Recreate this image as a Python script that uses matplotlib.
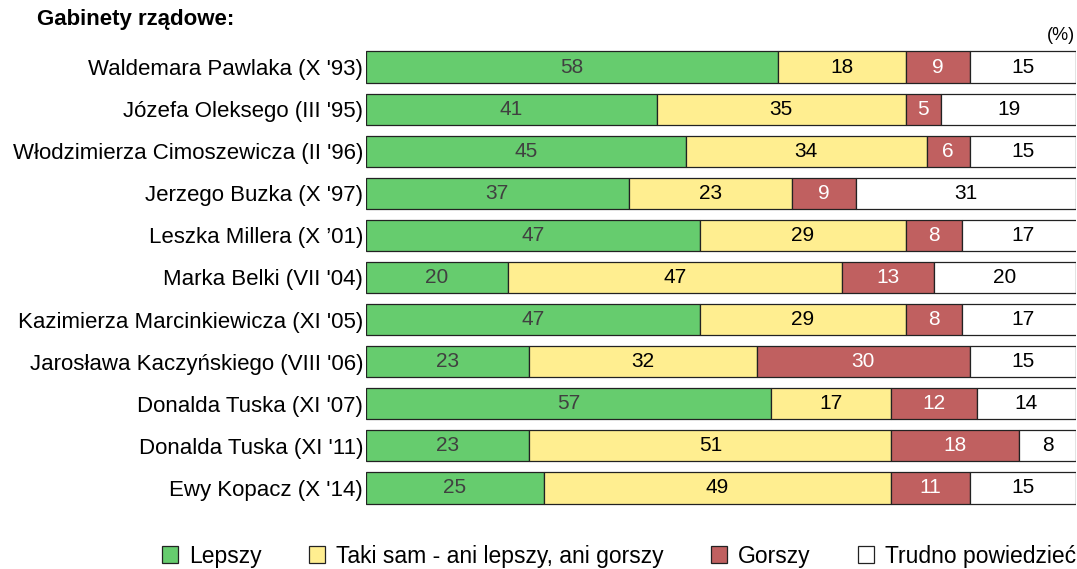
import numpy as np
import matplotlib
matplotlib.use("Agg")
import matplotlib.pyplot as plt
from matplotlib.patches import Patch

plt.rcParams["font.family"] = ["Liberation Sans", "DejaVu Sans"]

# --- DATA ---
cabinets = [
    "Waldemara Pawlaka (X '93)",
    "Józefa Oleksego (III '95)",
    "Włodzimierza Cimoszewicza (II '96)",
    "Jerzego Buzka (X '97)",
    "Leszka Millera (X \u201901)",
    "Marka Belki (VII '04)",
    "Kazimierza Marcinkiewicza (XI '05)",
    "Jarosława Kaczyńskiego (VIII '06)",
    "Donalda Tuska (XI '07)",
    "Donalda Tuska (XI '11)",
    "Ewy Kopacz (X '14)",
]
better = [58, 41, 45, 37, 47, 20, 47, 23, 57, 23, 25]
same = [18, 35, 34, 23, 29, 47, 29, 32, 17, 51, 49]
worse = [9, 5, 6, 9, 8, 13, 8, 30, 12, 18, 11]
hard = [15, 19, 15, 31, 17, 20, 17, 15, 14, 8, 15]

series = ["Lepszy", "Taki sam - ani lepszy, ani gorszy", "Gorszy", "Trudno powiedzieć"]
colors = ["#66CC6E", "#FFEE90", "#C06060", "#FFFFFF"]
text_colors = ["#404040", "#000000", "#FFFFFF", "#000000"]

# --- PLOT ---
fig = plt.figure(figsize=(10.77, 5.69), dpi=100)
ax = fig.add_axes([366 / 1077, 1 - 509 / 569, 710 / 1077, 463 / 569])

y = np.arange(len(cabinets))
left = np.zeros(len(cabinets))
for vals, col, tcol in zip([better, same, worse, hard], colors, text_colors):
    vals = np.array(vals)
    ax.barh(y, vals, left=left, height=0.74, color=col, edgecolor="#222222", linewidth=0.9)
    for yi, l, v in zip(y, left, vals):
        ax.text(l + v / 2, yi, str(v), ha="center", va="center", fontsize=15, color=tcol)
    left += vals

ax.set_xlim(0, 100)
ax.set_ylim(len(cabinets) - 0.5, -0.5)
ax.set_yticks(y)
ax.set_yticklabels(cabinets, fontsize=16)
ax.tick_params(axis="y", length=0, pad=2)
ax.set_xticks([])
for s in ax.spines.values():
    s.set_visible(False)

fig.text(37 / 1077, 1 - 20 / 569, "Gabinety rządowe:", fontsize=16, fontweight="bold", va="center")
fig.text(1075 / 1077, 1 - 36 / 569, "(%)", fontsize=13, ha="right", va="center")

handles = [Patch(facecolor=c, edgecolor="#222222", linewidth=0.9) for c in colors]
fig.legend(handles, series, loc="center", bbox_to_anchor=(619 / 1077, 1 - 556 / 569),
           ncol=4, frameon=False, fontsize=16.5, handlelength=0.7, handleheight=0.7,
           handletextpad=0.5, columnspacing=2.05, borderpad=0, borderaxespad=0)

fig.savefig("out.png", dpi=100)
